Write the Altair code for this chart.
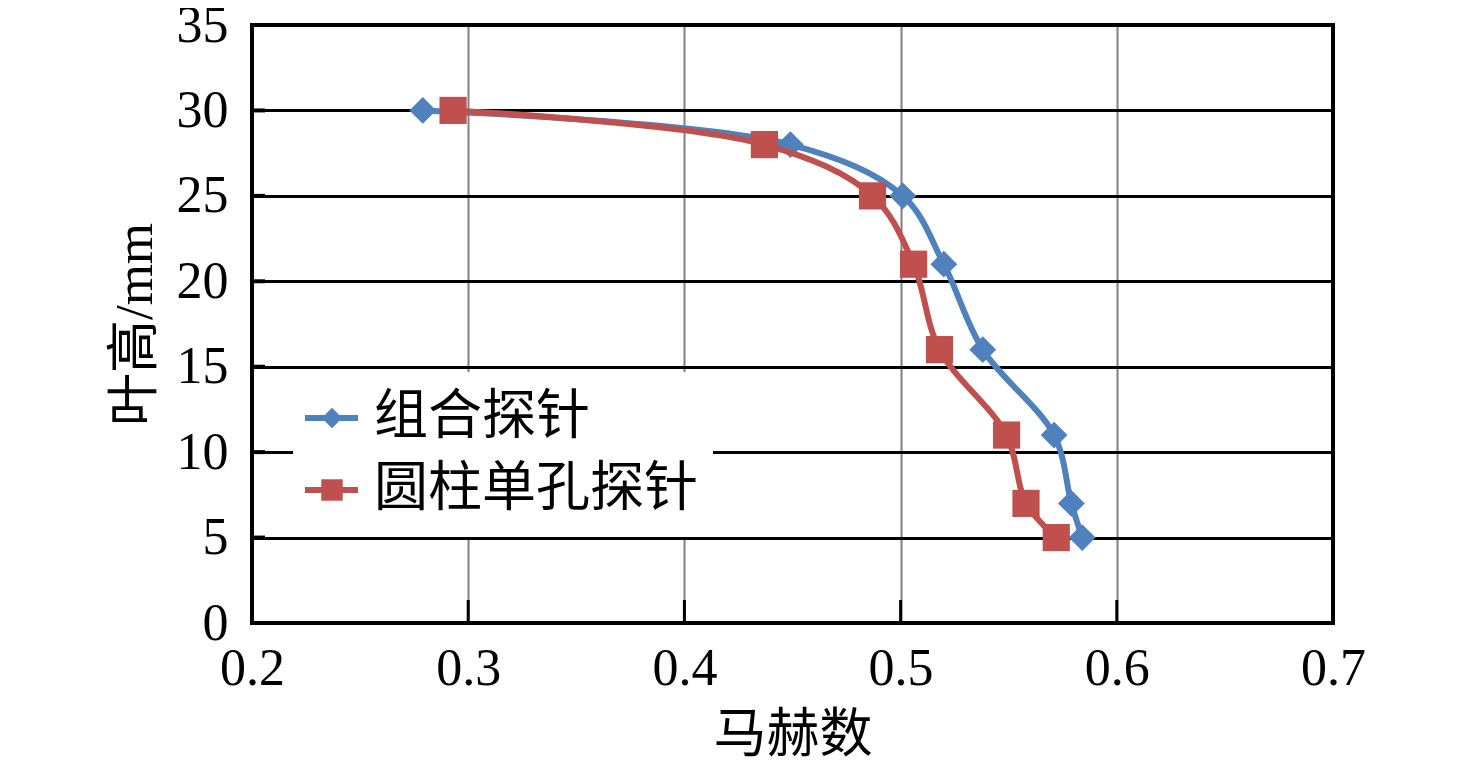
import altair as alt
import pandas as pd

# Data
blade_height = [30, 28, 25, 21, 16, 11, 7, 5]
mach_combined = [0.279, 0.449, 0.501, 0.520, 0.538, 0.571, 0.579, 0.584]
mach_cylinder = [0.293, 0.437, 0.487, 0.506, 0.518, 0.549, 0.558, 0.572]
series_names = ["组合探针", "圆柱单孔探针"]
series_colors = ["#4F81BD", "#C0504D"]
x_ticks = [0.2, 0.3, 0.4, 0.5, 0.6, 0.7]
y_ticks = [0, 5, 10, 15, 20, 25, 30, 35]

FONT = "'Liberation Serif', 'Noto Sans CJK SC', serif"
W, H = 1081, 598

df_a = pd.DataFrame({"mach": mach_combined, "h": blade_height, "s": series_names[0]})
df_b = pd.DataFrame({"mach": mach_cylinder, "h": blade_height, "s": series_names[1]})

xs = alt.Scale(domain=[0.2, 0.7], nice=False, zero=False)
ys = alt.Scale(domain=[0, 35], nice=False, zero=False)

x_enc = alt.X("mach:Q", scale=xs, title="马赫数",
              axis=alt.Axis(values=x_ticks, format=".1f", grid=True, gridColor="#808080",
                            gridWidth=2, ticks=False, domain=False, labelFontSize=52,
                            labelFont=FONT, labelColor="black", labelPadding=20,
                            labelFlush=False, labelOverlap=False,
                            titleFont=FONT, titleFontSize=53, titleFontWeight="normal",
                            titleColor="black", titleY=112, titleBaseline="middle"))
y_enc = alt.Y("h:Q", scale=ys, title="叶高/mm",
              axis=alt.Axis(values=y_ticks, grid=True, gridColor="black", gridWidth=3,
                            ticks=False, domain=False, labelFontSize=52, labelFont=FONT,
                            labelColor="black", labelPadding=24, labelBaseline="middle",
                            labelFlush=False, labelOverlap=False,
                            titleFont=FONT, titleFontSize=53, titleFontWeight="normal",
                            titleColor="black", titleX=-117, titleY=H / 2,
                            titleAngle=-90, titleBaseline="middle", titleAlign="center"))

line_a = alt.Chart(df_a).mark_line(color=series_colors[0], strokeWidth=6,
                                   interpolate="catmull-rom").encode(x=x_enc, y=y_enc)
pt_a = alt.Chart(df_a).mark_point(shape="diamond", filled=True, size=720, opacity=1,
                                  color=series_colors[0]).encode(x="mach:Q", y="h:Q")
line_b = alt.Chart(df_b).mark_line(color=series_colors[1], strokeWidth=6,
                                   interpolate="catmull-rom").encode(x="mach:Q", y="h:Q")
pt_b = alt.Chart(df_b).mark_point(shape="square", filled=True, size=740, opacity=1,
                                  color=series_colors[1]).encode(x="mach:Q", y="h:Q")

# inward ticks
tick_df = pd.DataFrame({"t": x_ticks[1:-1]})
xticks = alt.Chart(tick_df).mark_rule(color="black", strokeWidth=3).encode(
    x=alt.X("t:Q", scale=xs), y=alt.value(H - 23), y2=alt.value(H))
ytick_df = pd.DataFrame({"t": y_ticks[1:-1]})
yticks = alt.Chart(ytick_df).mark_rule(color="black", strokeWidth=4).encode(
    y=alt.Y("t:Q", scale=ys), x=alt.value(0), x2=alt.value(13))

# plot border on top of gridlines
border = alt.Chart(pd.DataFrame({"a": [0]})).mark_rect(
    fill="transparent", stroke="black", strokeWidth=4).encode(
    x=alt.value(0), x2=alt.value(W), y=alt.value(0), y2=alt.value(H))

# legend
leg_bg = alt.Chart(pd.DataFrame({"a": [0]})).mark_rect(fill="white").encode(
    x=alt.value(41), x2=alt.value(461), y=alt.value(347), y2=alt.value(512))
legend_layers = []
rows = [393, 465]
shapes = ["diamond", "square"]
sizes = [420, 460]
for name, col, ry, shp, sz in zip(series_names, series_colors, rows, shapes, sizes):
    d = pd.DataFrame({"label": [name]})
    legend_layers.append(alt.Chart(d).mark_rule(color=col, strokeWidth=6).encode(
        x=alt.value(53), x2=alt.value(106), y=alt.value(ry)))
    legend_layers.append(alt.Chart(d).mark_point(shape=shp, filled=True, size=sz, opacity=1,
                                                 color=col).encode(x=alt.value(80), y=alt.value(ry)))
    legend_layers.append(alt.Chart(d).mark_text(font=FONT, fontSize=54, align="left",
                                                baseline="middle", color="black").encode(
        x=alt.value(122), y=alt.value(ry), text="label:N"))

chart = alt.layer(line_a, pt_a, line_b, pt_b, xticks, yticks, leg_bg, *legend_layers, border).properties(
    width=W, height=H,
    autosize=alt.AutoSizeParams(type="none"),
    padding={"left": 244, "top": 17, "right": 60, "bottom": 140},
).configure_view(stroke=None).configure(background="white")

chart.save("out.html", embed_options={"renderer": "svg", "actions": False})
